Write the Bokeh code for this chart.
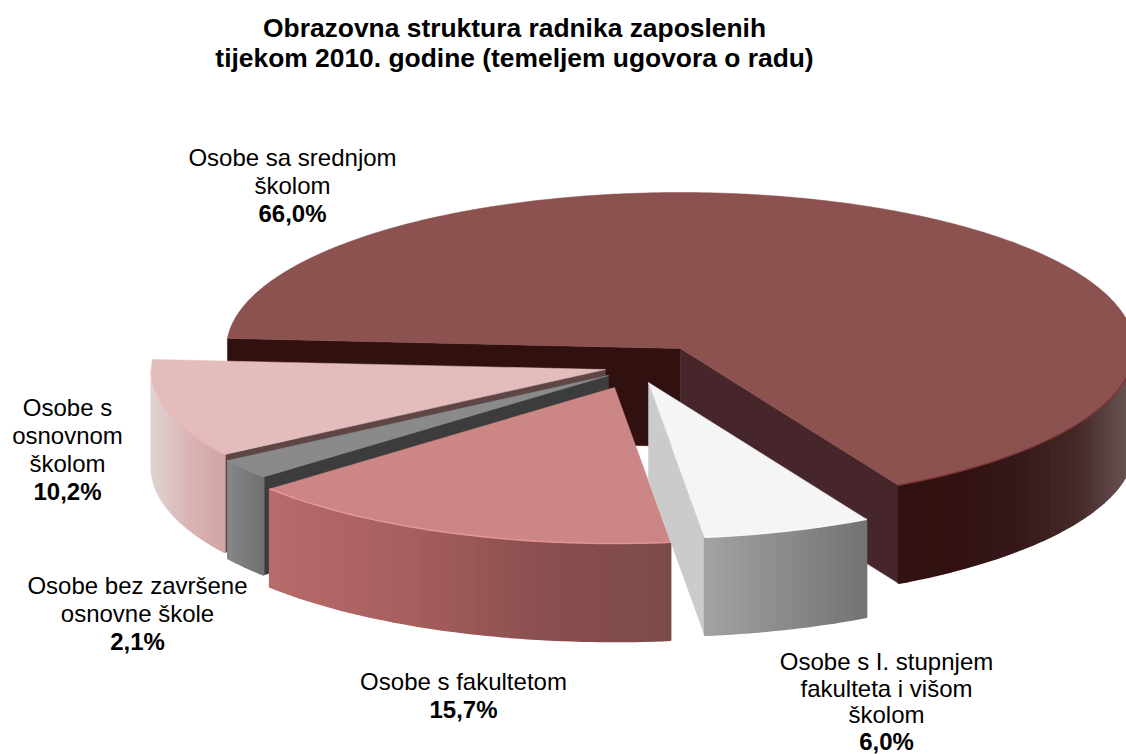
from bokeh.plotting import figure
from bokeh.models import ColumnDataSource, Range1d
from bokeh.core.properties import value
from bokeh.embed import file_html
from bokeh.resources import INLINE
import math

# ---- data -------------------------------------------------------------
categories = ["Osobe sa srednjom školom", "Osobe s I. stupnjem fakulteta i višom školom",
              "Osobe s fakultetom", "Osobe bez završene osnovne škole", "Osobe s osnovnom školom"]
shares = [66.0, 6.0, 15.7, 2.1, 10.2]
share_labels = ["66,0%", "6,0%", "15,7%", "2,1%", "10,2%"]
title_lines = ["Obrazovna struktura radnika zaposlenih",
               "tijekom 2010. godine (temeljem ugovora o radu)"]
label_lines = [["Osobe sa srednjom", "školom"],
               ["Osobe s I. stupnjem", "fakulteta i višom", "školom"],
               ["Osobe s fakultetom"],
               ["Osobe bez završene", "osnovne škole"],
               ["Osobe s", "osnovnom", "školom"]]

# ---- styling / layout ---------------------------------------------------
FONT = "Liberation Sans"
START_DEG = 176.3
RX, RY, DEPTH = 454.0, 156.0, 98.0
centres = [(680, 348), (648, 382), (614, 387), (608, 375), (605, 369)]
top_cols = ["#8c5250", "#f5f5f5", "#cd8686", "#8a8a8a", "#e3bcbc"]
rim_cols = ["#7a2e2e", "#ffffff", "#ee9c9c", "#8a8a8a", "#f2b4b4"]
start_face = ["#30110f", None, None, "#3c3c3c", "#5e4546"]
end_face = ["#46262a", "#cbcbcb", None, None, None]
side_stops = [["#321211", "#321211", "#36181a", "#452828", "#6e5a5a"],
              ["#a2a2a2", "#737373"],
              ["#b76b6b", "#a85f5f", "#8b4f4f", "#7d4a4a"],
              ["#868686", "#6f6f6f"],
              ["#e0d2d2", "#dab4b4", "#d2a4a4"]]
label_anchor = [(292, 157), (886, 661), (463, 681), (137, 585), (67, 407)]
label_step = [28, 26.7, 28, 28, 28]
draw_order = [0, 4, 3, 2, 1]


def hex2rgb(h):
    return tuple(int(h[i:i + 2], 16) for i in (1, 3, 5))


def ramp(stops, f):
    f = min(max(f, 0.0), 1.0) * (len(stops) - 1)
    i = min(int(f), len(stops) - 2)
    t = f - i
    a, b = hex2rgb(stops[i]), hex2rgb(stops[i + 1])
    return "#%02x%02x%02x" % tuple(round(a[k] + (b[k] - a[k]) * t) for k in range(3))


def pt(c, deg, dz=0.0):
    r = math.radians(deg)
    return c[0] + RX * math.cos(r), c[1] - RY * math.sin(r) + dz


def arc(c, a0, a1, n, dz=0.0):
    return [pt(c, a0 + (a1 - a0) * i / n, dz) for i in range(n + 1)]


p = figure(width=1126, height=754, output_backend="svg", toolbar_location=None,
           x_range=Range1d(0, 1126), y_range=Range1d(754, 0), min_border=0,
           outline_line_color=None, background_fill_color="white", border_fill_color="white")
p.axis.visible = False
p.grid.visible = False

# sweep angles follow the shares, clockwise
spans = []
angle = START_DEG
for share in shares:
    spans.append((angle, angle - share * 3.6))
    angle -= share * 3.6

for i in draw_order:
    a0, a1 = spans[i]
    c = centres[i]

    # the cut faces that can be seen
    for deg, col in ((a0, start_face[i]), (a1, end_face[i])):
        if col is None:
            continue
        e = pt(c, deg)
        p.patch([c[0], e[0], e[0], c[0]], [c[1], e[1], e[1] + DEPTH, c[1] + DEPTH],
                fill_color=col, line_color=col, line_width=0.5)

    # the outer wall, only where it faces the viewer
    vis0, vis1 = min(a0, 0.0), max(a1, -180.0)
    n = max(8, int((vis0 - vis1) * 0.9))
    xs, ys, cols = [], [], []
    xa, xb = pt(c, vis1)[0], pt(c, vis0)[0]
    for k in range(n):
        d0 = vis0 + (vis1 - vis0) * k / n
        d1 = vis0 + (vis1 - vis0) * (k + 1) / n
        q0, q1 = pt(c, d0), pt(c, d1)
        xs.append([q0[0], q1[0], q1[0], q0[0]])
        ys.append([q0[1], q1[1], q1[1] + DEPTH, q0[1] + DEPTH])
        cols.append(ramp(side_stops[i], (0.5 * (q0[0] + q1[0]) - xa) / (xb - xa)))
    p.patches("xs", "ys", source=ColumnDataSource(dict(xs=xs, ys=ys, c=cols)),
              fill_color="c", line_color="c", line_width=1.6)

    # the top face
    rim = arc(c, a0, a1, max(8, int((a0 - a1) * 2)))
    p.patch([c[0]] + [q[0] for q in rim], [c[1]] + [q[1] for q in rim],
            fill_color=top_cols[i], line_color=top_cols[i], line_width=0.5)

    # bright rim along the front edge
    front = arc(c, vis0, vis1, n)
    p.line([q[0] for q in front], [q[1] for q in front],
           line_color=rim_cols[i], line_width=1.5, line_alpha=0.8)

# texts
p.text(x=[514, 514], y=[27, 57], text=title_lines, text_font=value(FONT),
       text_font_style="bold", text_font_size="26.4px", text_color="#000000",
       text_align="center", text_baseline="middle")

for (ax, ay), step, lines, pct in zip(label_anchor, label_step, label_lines, share_labels):
    ys = [ay + k * step for k in range(len(lines))]
    p.text(x=[ax] * len(lines), y=ys, text=lines, text_font=value(FONT),
           text_font_size="24px", text_color="#000000", text_align="center",
           text_baseline="middle")
    p.text(x=[ax], y=[ay + len(lines) * step], text=[pct], text_font=value(FONT),
           text_font_style="bold", text_font_size="24px", text_color="#000000",
           text_align="center", text_baseline="middle")

open("out.html", "w").write(file_html(p, INLINE))
